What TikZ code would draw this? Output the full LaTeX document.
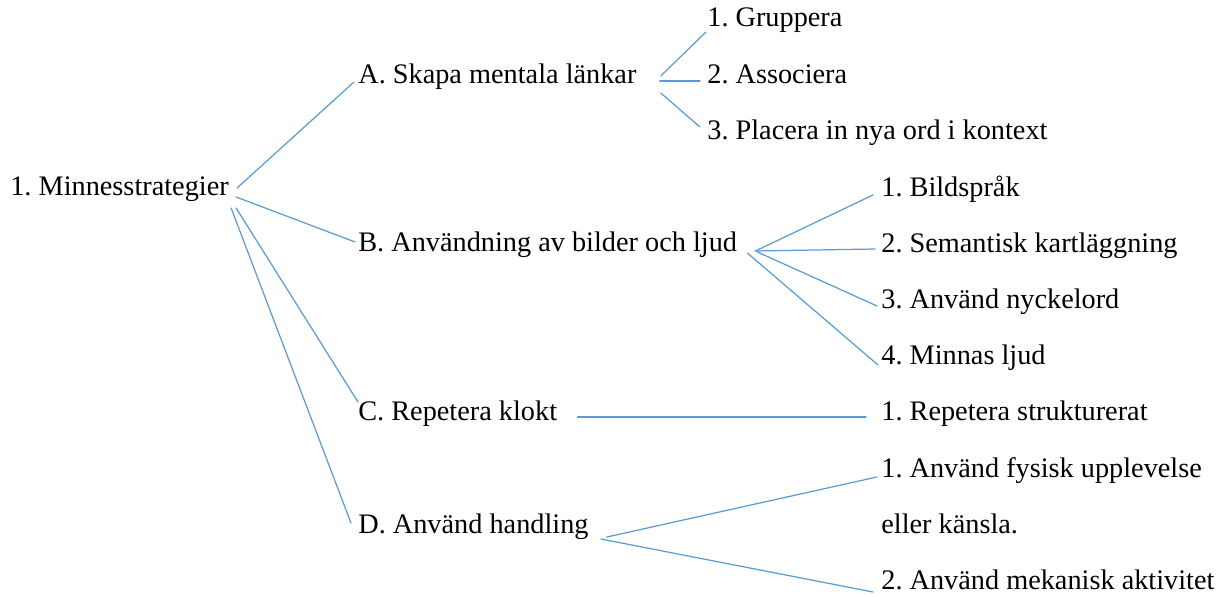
\documentclass[tikz,border=0pt]{standalone}
\usepackage{fontspec}
\setmainfont{Liberation Serif}
\frenchspacing
\definecolor{linkblue}{HTML}{5B9BD5}

\begin{document}
\begin{tikzpicture}[x=0.02cm,y=-0.02cm,line cap=round,line join=round,
    item/.style={anchor=base west,inner sep=0pt,font=\fontsize{16.1}{18}\selectfont},
    link/.style={draw=linkblue,line width=0.7pt}]
  \useasboundingbox (0,0) rectangle (1225,597);
  \node[item] (root) at (10,196) {1. Minnesstrategier};
  \node[item] (a) at (358,84) {A. Skapa mentala länkar};
  \node[item] (b) at (358,252) {B. Användning av bilder och ljud};
  \node[item] (c) at (358,421) {C. Repetera klokt};
  \node[item] (d) at (358,534) {D. Använd handling};
  \foreach \i/\y/\t in {1/27/Gruppera,2/84/Associera,3/140/Placera in nya ord i kontext} {
    \node[item] (a\i) at (707,\y) {\i. \t};
  }
  \foreach \i/\y/\t in {1/197/Bildspråk,2/253/Semantisk kartläggning,3/309/Använd nyckelord,4/365/Minnas ljud} {
    \node[item] (b\i) at (881,\y) {\i. \t};
  }
  \node[item] (c1) at (881,421) {1. Repetera strukturerat};
  \node[item] (d1) at (881,478) {1. Använd fysisk upplevelse};
  \node[item] (d1b) at (881,534) {eller känsla.};
  \node[item] (d2) at (881,590) {2. Använd mekanisk aktivitet};
  \draw[link] ([shift={(8,-8)}]root.base east) -- ([shift={(-4,-2)}]a.base west);
  \draw[link] ([shift={(7,1)}]root.base east) -- ([shift={(-3,-10)}]b.base west);
  \draw[link] ([shift={(7,12)}]root.base east) -- ([shift={(0,-19)}]c.base west);
  \draw[link] ([shift={(2,12)}]root.base east) -- ([shift={(-7,-11)}]d.base west);
  \foreach \i/\sx/\sy/\ex/\ey in {1/24/-8/-1/5,2/23/-3/-7/-3,3/24/9/-7/-13} {
    \draw[link] ([shift={(\sx,\sy)}]a.base east) -- ([shift={(\ex,\ey)}]a\i.base west);
  }
  \foreach \i/\sx/\sy/\ex/\ey in {1/18/-1/-8/-2,2/18/-1/-6/-4,3/20/0/-4/-3,4/10/1/-3/0} {
    \draw[link] ([shift={(\sx,\sy)}]b.base east) -- ([shift={(\ex,\ey)}]b\i.base west);
  }
  \draw[link] ([shift={(20,-4)}]c.base east) -- ([shift={(-15,-4)}]c1.base west);
  \draw[link] ([shift={(18,3)}]d.base east) -- ([shift={(-4,-1)}]d1.base west);
  \draw[link] ([shift={(12,5)}]d.base east) -- ([shift={(-8,2)}]d2.base west);
\end{tikzpicture}
\end{document}
